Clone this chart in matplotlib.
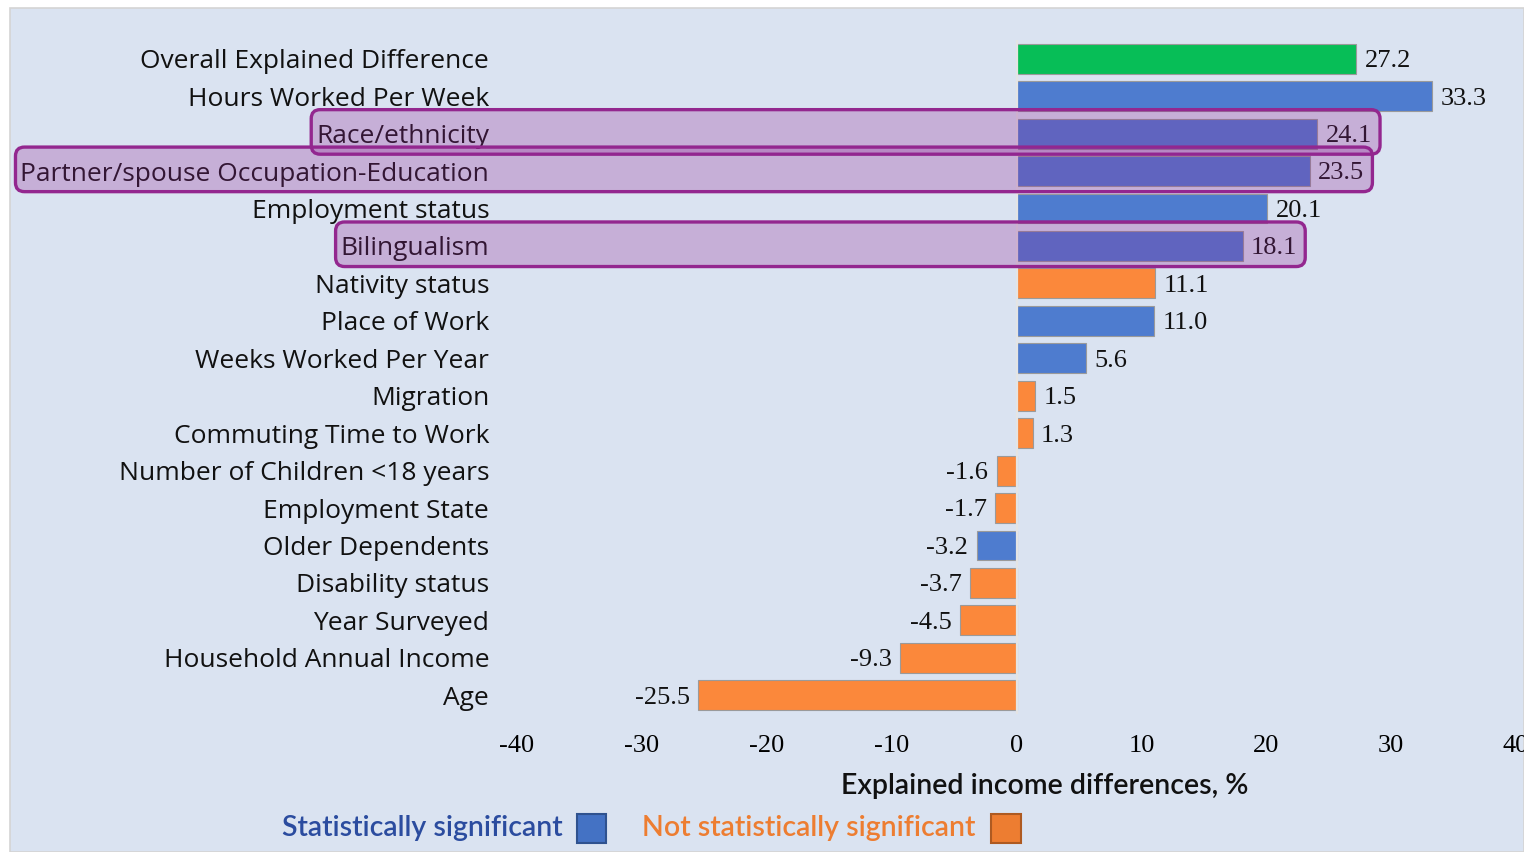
import matplotlib
matplotlib.use("Agg")
import matplotlib.pyplot as plt
from matplotlib.patches import Rectangle, FancyBboxPatch
from matplotlib.transforms import IdentityTransform

categories = [
    "Overall Explained Difference", "Hours Worked Per Week", "Race/ethnicity",
    "Partner/spouse Occupation-Education", "Employment status", "Bilingualism",
    "Nativity status", "Place of Work", "Weeks Worked Per Year", "Migration",
    "Commuting Time to Work", "Number of Children <18 years", "Employment State",
    "Older Dependents", "Disability status", "Year Surveyed",
    "Household Annual Income", "Age",
]
values = [27.2, 33.3, 24.1, 23.5, 20.1, 18.1, 11.1, 11.0, 5.6, 1.5, 1.3,
          -1.6, -1.7, -3.2, -3.7, -4.5, -9.3, -25.5]
status = ["overall", "sig", "sig", "sig", "sig", "sig", "ns", "sig", "sig", "ns", "ns",
          "ns", "ns", "sig", "ns", "ns", "ns", "ns"]
highlighted = ["Race/ethnicity", "Partner/spouse Occupation-Education", "Bilingualism"]
xticks = [-40, -30, -20, -10, 0, 10, 20, 30, 40]
xlabel = "Explained income differences, %"
legend_labels = ["Statistically significant", "Not statistically significant"]

W, H = 1524, 852
fig = plt.figure(figsize=(W / 100, H / 100), dpi=100)
fig.patch.set_facecolor("white")
BG = "#DAE3F1"
fig.add_artist(Rectangle((10 / W, 0), 1 - 10 / W, 1 - 8 / H, transform=fig.transFigure,
                         facecolor=BG, edgecolor="#D4D4D4", lw=1.2, zorder=-5))

ax = fig.add_axes([517 / W, 1 - 714 / H, (1516 - 517) / W, (714 - 40) / H])
ax.set_facecolor("none")
for s in ax.spines.values():
    s.set_visible(False)

colmap = {"overall": "#07BE57", "sig": "#4E7CCF", "ns": "#FB883B"}
ypos = list(range(len(categories)))
ax.barh(ypos, values, height=0.8, color=[colmap[s] for s in status],
        edgecolor="#9A9A9A", linewidth=0.8, zorder=2)
ax.axvline(0, color="#E4E4E4", lw=1.6, zorder=3)

ax.set_xlim(-40, 40)
ax.set_ylim(len(categories) - 0.5, -0.5)
ax.set_xticks(xticks)
ax.set_xticklabels([str(t) for t in xticks], fontfamily="Liberation Serif", fontsize=19)
ax.set_yticks(ypos)
ax.set_yticklabels(categories, fontfamily="Open Sans", fontsize=19, color="#111111")
ax.tick_params(axis="x", length=0, pad=15)
ax.tick_params(axis="y", length=0, pad=20)

value_texts = []
for y, v in zip(ypos, values):
    if v >= 0:
        t = ax.annotate(f"{v:.1f}", (v, y), xytext=(6, -6), textcoords="offset points",
                        ha="left", va="baseline", fontfamily="Liberation Serif",
                        fontsize=19, color="#111111")
    else:
        t = ax.annotate(f"{v:.1f}", (v, y), xytext=(-6, -6), textcoords="offset points",
                        ha="right", va="baseline", fontfamily="Liberation Serif",
                        fontsize=19, color="#111111")
    value_texts.append(t)

fig.text(1045 / W, 1 - 786 / H, xlabel, ha="center", va="center",
         fontfamily="Lato", fontweight="semibold", fontsize=20.5, color="#111111")

fig.text(563 / W, 1 - 828 / H, legend_labels[0], ha="right", va="center",
         fontfamily="Lato", fontweight="semibold", fontsize=20.5, color="#2B4C9F")
fig.add_artist(Rectangle((577 / W, 1 - 843 / H), 29 / W, 29 / H, transform=fig.transFigure,
                         facecolor="#4472C4", edgecolor="#2F528F", lw=1.5))
fig.text(975 / W, 1 - 828 / H, legend_labels[1], ha="right", va="center",
         fontfamily="Lato", fontweight="semibold", fontsize=20.5, color="#ED7D31")
fig.add_artist(Rectangle((991 / W, 1 - 843 / H), 30 / W, 29 / H, transform=fig.transFigure,
                         facecolor="#ED7D31", edgecolor="#AE5A21", lw=1.5))

fig.canvas.draw()
renderer = fig.canvas.get_renderer()
ticklabels = ax.get_yticklabels()
for name in highlighted:
    i = categories.index(name)
    lb = ticklabels[i].get_window_extent(renderer)
    vb = value_texts[i].get_window_extent(renderer)
    y_top = ax.transData.transform((0, i - 0.64))[1]
    y_bot = ax.transData.transform((0, i + 0.55))[1]
    x0 = lb.x0 - 5
    x1 = vb.x1 + 8
    box = FancyBboxPatch((x0, y_bot), x1 - x0, y_top - y_bot,
                         boxstyle="round,pad=0,rounding_size=9",
                         transform=IdentityTransform(),
                         facecolor=(0.57, 0.15, 0.58, 0.27),
                         edgecolor="#93278F", lw=2.4, zorder=5)
    fig.add_artist(box)

fig.savefig("out.png", dpi=100, facecolor="white")
